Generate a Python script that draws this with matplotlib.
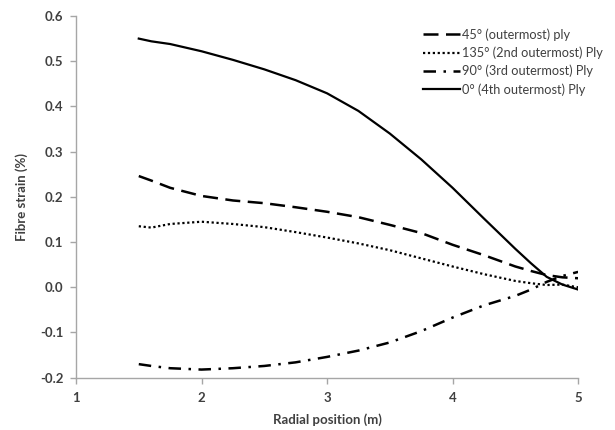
import matplotlib
matplotlib.use("Agg")
import matplotlib.pyplot as plt

# radial position (m)
radius = [1.5, 1.6, 1.75, 2.0, 2.25, 2.5, 2.75, 3.0, 3.25, 3.5, 3.75,
          4.0, 4.25, 4.5, 4.625, 4.75, 4.875, 5.0]

# fibre strain (%) per ply
ply_45 = [0.246, 0.236, 0.220, 0.202, 0.192, 0.186, 0.177, 0.167, 0.155,
          0.138, 0.120, 0.094, 0.071, 0.046, 0.036, 0.027, 0.022, 0.020]
ply_135 = [0.135, 0.132, 0.140, 0.145, 0.140, 0.133, 0.122, 0.110, 0.097,
           0.082, 0.064, 0.046, 0.029, 0.014, 0.009, 0.005, 0.006, 0.000]
ply_90 = [-0.170, -0.174, -0.179, -0.182, -0.179, -0.174, -0.166, -0.154,
          -0.140, -0.122, -0.097, -0.067, -0.040, -0.019, -0.005, 0.012,
          0.025, 0.034]
ply_0 = [0.550, 0.544, 0.538, 0.522, 0.503, 0.482, 0.458, 0.429, 0.390,
         0.340, 0.283, 0.220, 0.152, 0.085, 0.053, 0.023, 0.006, -0.005]

labels = ["45° (outermost) ply", "135° (2nd outermost) Ply",
          "90° (3rd outermost) Ply", "0° (4th outermost) Ply"]

plt.rcParams['font.family'] = ['Lato', 'DejaVu Sans']

fig = plt.figure(figsize=(6.15, 4.30), dpi=100)
ax = fig.add_axes([0.1236, 0.1216, 0.8164, 0.8412])

ax.plot(radius, ply_45, color='black', lw=1.8, dashes=(6, 3), label=labels[0])
ax.plot(radius, ply_135, color='black', lw=1.6, dashes=(1, 1.2), label=labels[1])
ax.plot(radius, ply_90, color='black', lw=1.8, dashes=(5, 3, 1, 3), label=labels[2])
ax.plot(radius, ply_0, color='black', lw=1.6, label=labels[3])

ax.set_xlim(1, 5)
ax.set_ylim(-0.2, 0.6)
ax.set_xticks([1, 2, 3, 4, 5])
ax.set_yticks([-0.2, -0.1, 0.0, 0.1, 0.2, 0.3, 0.4, 0.5, 0.6])
ax.set_yticklabels(['-0.2', '-0.1', '0.0', '0.1', '0.2', '0.3', '0.4', '0.5', '0.6'])

for s in ['top', 'right']:
    ax.spines[s].set_visible(False)
for s in ['left', 'bottom']:
    ax.spines[s].set_color('#a6a6a6')
    ax.spines[s].set_linewidth(1.0)
ax.tick_params(colors='#a6a6a6', length=4, width=1.0, labelcolor='#404040',
               labelsize=9.5)
ax.tick_params(axis='y', pad=5)
ax.tick_params(axis='x', pad=6)
for t in ax.get_xticklabels() + ax.get_yticklabels():
    t.set_fontweight('bold')

ax.set_xlabel('Radial position (m)', fontsize=9.5, fontweight='bold',
              color='#404040', labelpad=7)
ax.set_ylabel('Fibre strain (%)', fontsize=9.5, fontweight='bold',
              color='#404040', labelpad=9)

leg = ax.legend(loc='upper right', bbox_to_anchor=(1.06, 0.98), frameon=False,
                fontsize=9.2, handlelength=2.9, handletextpad=0.2,
                labelspacing=0.45, borderaxespad=0)
for t in leg.get_texts():
    t.set_color('#404040')

fig.savefig('out.png', dpi=100)
